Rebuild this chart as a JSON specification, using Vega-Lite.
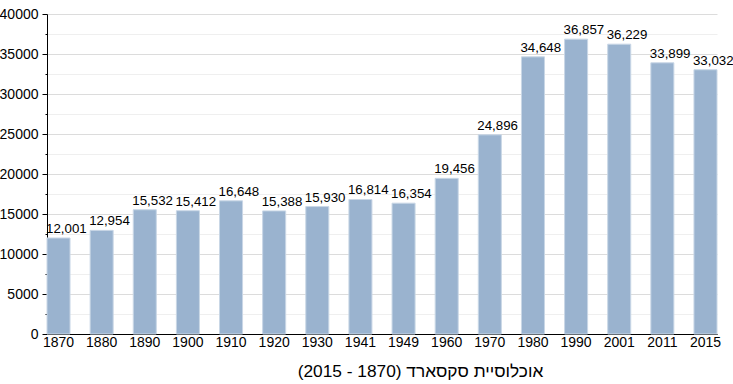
{
  "$schema": "https://vega.github.io/schema/vega-lite/v6.json",
  "autosize": "none",
  "width": 670,
  "height": 320,
  "padding": {"left": 47, "top": 14, "right": 16, "bottom": 50},
  "background": "white",
  "config": {
    "view": {"stroke": null},
    "font": "Liberation Sans",
    "axis": {"labelFont": "Liberation Sans", "titleFont": "Liberation Sans", "labelColor": "black", "titleColor": "black"}
  },
  "data": {"values": [
    {"year": "1870", "pop": 12001},
    {"year": "1880", "pop": 12954},
    {"year": "1890", "pop": 15532},
    {"year": "1900", "pop": 15412},
    {"year": "1910", "pop": 16648},
    {"year": "1920", "pop": 15388},
    {"year": "1930", "pop": 15930},
    {"year": "1941", "pop": 16814},
    {"year": "1949", "pop": 16354},
    {"year": "1960", "pop": 19456},
    {"year": "1970", "pop": 24896},
    {"year": "1980", "pop": 34648},
    {"year": "1990", "pop": 36857},
    {"year": "2001", "pop": 36229},
    {"year": "2011", "pop": 33899},
    {"year": "2015", "pop": 33032}
  ]},
  "encoding": {
    "x": {
      "field": "year", "type": "ordinal", "sort": null,
      "scale": {"paddingInner": 0.466, "paddingOuter": 0},
      "axis": {
        "title": "אוכלוסיית סקסארד (1870 - 2015)",
        "titleFontSize": 17.3, "titleFontWeight": "normal",
        "titleX": 373, "titleY": 42, "titleBaseline": "alphabetic", "titleAnchor": null, "titleAlign": "center",
        "labelAngle": 0, "labelFontSize": 14, "labelPadding": 1,
        "ticks": false, "domainColor": "black", "domainWidth": 1
      }
    },
    "y": {
      "field": "pop", "type": "quantitative",
      "scale": {"domain": [0, 40000], "nice": false},
      "axis": {
        "title": null,
        "values": [0, 2500, 5000, 7500, 10000, 12500, 15000, 17500, 20000, 22500, 25000, 27500, 30000, 32500, 35000, 37500, 40000],
        "labelExpr": "datum.value % 5000 === 0 ? datum.value : ''",
        "labelFontSize": 14, "labelPadding": 4,
        "domainColor": "black", "tickColor": "black",
        "tickSize": {"condition": {"test": "datum.value % 5000 === 0", "value": 5}, "value": 2},
        "gridColor": {"condition": {"test": "datum.value % 5000 === 0", "value": "#dcdcdc"}, "value": "#efefef"},
        "labelBaseline": "middle"
      }
    }
  },
  "layer": [
    {"mark": {"type": "bar", "color": "#9ab3cf", "stroke": "#c9d7e6", "strokeWidth": 1}},
    {
      "mark": {"type": "text", "baseline": "bottom", "align": "left", "dx": -1, "dy": -2, "fontSize": 13.3, "color": "black"},
      "encoding": {
        "x": {"field": "year", "type": "ordinal", "sort": null, "bandPosition": 0},
        "text": {"field": "pop", "type": "quantitative", "format": ","}
      }
    }
  ]
}
